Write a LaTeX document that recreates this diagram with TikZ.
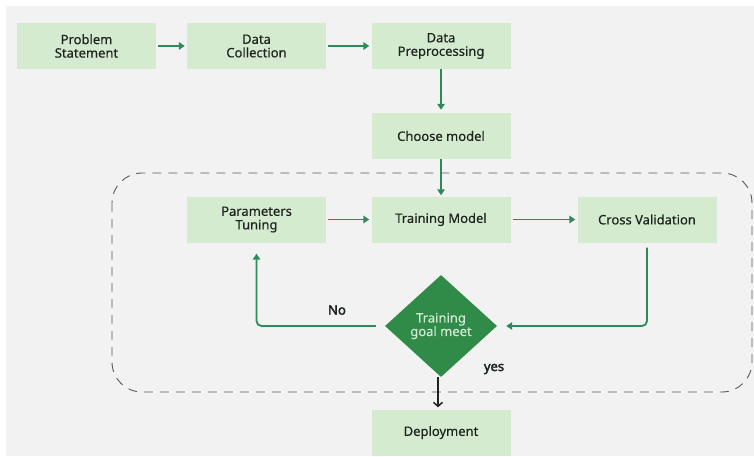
\documentclass[tikz,border=0pt]{standalone}
\usepackage{fontspec}
\setmainfont{Noto Sans}
\newfontfamily\boxfont{Noto Sans}[FakeBold=0.35]
\newfontfamily\labelfont{Noto Sans}[FakeBold=2.6]
\usetikzlibrary{shapes.geometric,arrows.meta}
\definecolor{pagebg}{HTML}{F2F2F2}
\definecolor{boxfill}{HTML}{D4EBCF}
\definecolor{flowgreen}{HTML}{2E8B57}
\definecolor{decide}{HTML}{2F8B47}
\definecolor{decidetext}{HTML}{D2EAD2}
\definecolor{ink}{HTML}{1E241E}
\tikzset{
  stepbox/.style={rectangle, fill=boxfill, minimum width=139pt, minimum height=46pt,
    inner sep=0pt, align=center, text=ink, font=\boxfont\fontsize{13}{13.5}\selectfont},
  decision/.style={diamond, fill=decide, minimum width=112pt, minimum height=102pt,
    inner sep=0pt, align=center, text=decidetext, font=\boxfont\fontsize{13}{13.5}\selectfont},
  flow/.style={draw=flowgreen, line width=1.8pt, -{Triangle[length=6pt,width=7.5pt]}},
  loopflow/.style={flow, rounded corners=5pt},
  final/.style={draw=ink, line width=1.5pt, -{Straight Barb[length=4pt,width=9pt]}},
  lbl/.style={text=ink, font=\labelfont\fontsize{13}{13.5}\selectfont},
}
\begin{document}
\begin{tikzpicture}[x=1pt,y=-1pt]
  \useasboundingbox (0,0) rectangle (754,457);
  \fill[white] (0,0) rectangle (754,457);
  \fill[pagebg] (6,6) rectangle (754,456);

  % iteration loop frame
  \draw[draw=black!65, line width=0.9pt, dash pattern=on 9pt off 7pt, rounded corners=30pt]
    (112,173) rectangle (752,392);

  % steps
  \node[stepbox] (ps)  at (86.5,46)   {Problem\\Statement};
  \node[stepbox] (dc)  at (256.5,46)  {Data\\Collection};
  \node[stepbox] (dp)  at (441,46)    {Data\\Preprocessing};
  \node[stepbox] (cm)  at (441,136)   {Choose model};
  \node[stepbox] (pt)  at (256.5,219.5) {Parameters\\Tuning};
  \node[stepbox] (tm)  at (441,219.5) {Training Model};
  \node[stepbox] (cv)  at (647,219.5) {Cross Validation};
  \node[decision] (goal) at (441,326) {Training\\goal meet};
  \node[stepbox] (dep) at (441,432.5) {Deployment};

  % connectors
  \draw[flow, shorten <=2pt, shorten >=2pt] (ps) -- (dc);
  \draw[flow, shorten <=2pt, shorten >=2pt] (dc) -- (dp);
  \draw[flow, shorten >=3pt] (dp) -- (cm);
  \draw[flow, shorten >=1pt] (cm) -- (tm);
  \draw[flow, shorten <=2pt, shorten >=2pt] (pt) -- (tm);
  \draw[flow, shorten <=2pt, shorten >=2pt] (tm) -- (cv);
  \draw[loopflow] ([yshift=-5pt]cv.south) |- ([xshift=9pt]goal.east);
  \draw[loopflow] ([xshift=-9pt]goal.west) -| ([yshift=-11pt]pt.south);
  \draw[final] ([xshift=-3pt]goal.south) -- ([xshift=-3pt,yshift=2pt]dep.north);

  % branch labels
  \node[lbl] (no)  at (337,310) {No};
  \node[lbl] (yes) at (494,369) {yes};
\end{tikzpicture}
\end{document}
